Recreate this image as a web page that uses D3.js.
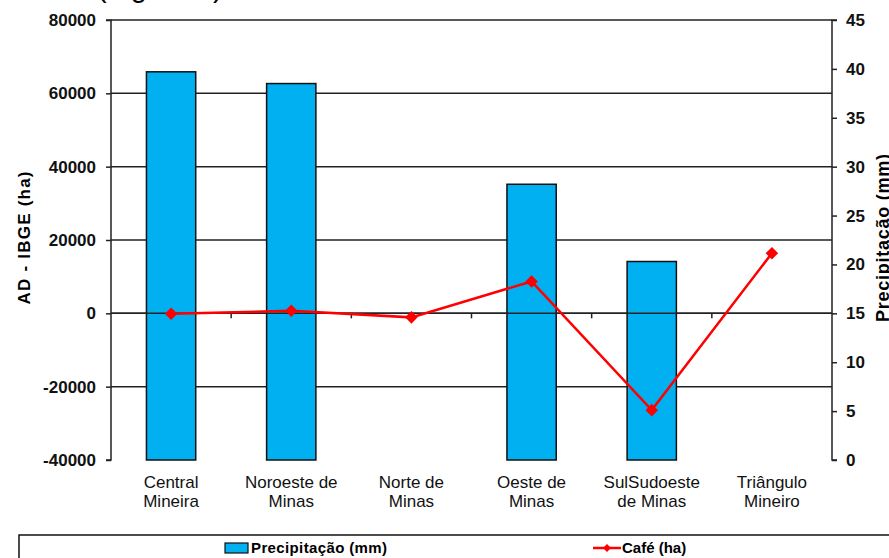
<!DOCTYPE html>
<html>
<head>
<meta charset="utf-8">
<script src="https://cdn.jsdelivr.net/npm/d3@7"></script>
<style>
  body { margin: 0; background: #fff; }
  svg { display: block; font-family: Arial, "Liberation Sans", sans-serif; }
</style>
</head>
<body>
<svg width="889" height="558"></svg>
<script>
// data
const regions = ['Central\nMineira', 'Noroeste de\nMinas', 'Norte de\nMinas', 'Oeste de\nMinas', 'SulSudoeste\nde Minas', 'Triângulo\nMineiro'];
const precipitacao = [39.7, 38.5, null, 28.2, 20.3, null];   // mm, right axis
const cafe = [-100, 700, -1100, 8700, -26400, 16400];          // ha, left axis
const leftTicks = [-40000, -20000, 0, 20000, 40000, 60000, 80000];
const rightTicks = [0, 5, 10, 15, 20, 25, 30, 35, 40, 45];

const svg = d3.select('svg');
const margin = { top: 20, right: 57, bottom: 98, left: 111 };
const W = 889 - margin.left - margin.right;
const H = 558 - margin.top - margin.bottom;

const x = d3.scaleBand().domain(regions).range([margin.left, margin.left + W]);
const yL = d3.scaleLinear().domain([-40000, 80000]).range([margin.top + H, margin.top]);
const yR = d3.scaleLinear().domain([0, 45]).range([margin.top + H, margin.top]);

// partially cut caption above the chart
svg.append('text').attr('x', 97).attr('y', -3)
  .attr('font-size', 29).text('(Figura 3)');

// gridlines
svg.append('g').selectAll('line')
  .data(leftTicks.filter(d => d > -40000))
  .join('line')
  .attr('x1', margin.left).attr('x2', margin.left + W)
  .attr('y1', d => yL(d)).attr('y2', d => yL(d))
  .attr('stroke', '#222').attr('stroke-width', 1.5);

// left axis
const gl = svg.append('g').attr('transform', `translate(${margin.left},0)`)
  .call(d3.axisLeft(yL).tickValues(leftTicks).tickSize(5).tickPadding(10).tickFormat(d => String(d)));
gl.select('.domain').attr('stroke', '#222').attr('stroke-width', 1.5).attr('d', `M-5,${yL(80000)}H0V${yL(-40000)}H-5`);
gl.selectAll('.tick line').attr('stroke', '#222').attr('stroke-width', 1.5);
gl.selectAll('text').attr('font-size', 17).attr('font-weight', 'bold').attr('fill', '#111');

// right axis
const gr = svg.append('g').attr('transform', `translate(${margin.left + W},0)`)
  .call(d3.axisRight(yR).tickValues(rightTicks).tickSize(5).tickPadding(9));
gr.select('.domain').attr('stroke', '#222').attr('stroke-width', 1.5).attr('d', `M5,${yR(45)}H0V${yR(0)}H5`);
gr.selectAll('.tick line').attr('stroke', '#222').attr('stroke-width', 1.5);
gr.selectAll('text').attr('font-size', 17).attr('font-weight', 'bold').attr('fill', '#111');

// axis titles
svg.append('text')
  .attr('transform', `translate(30,238) rotate(-90)`)
  .attr('text-anchor', 'middle').attr('font-size', 17).attr('font-weight', 'bold')
  .attr('textLength', 133)
  .text('AD - IBGE  (ha)');
svg.append('text')
  .attr('transform', `translate(889,238) rotate(-90)`)
  .attr('text-anchor', 'middle').attr('font-size', 18).attr('font-weight', 'bold')
  .attr('textLength', 168)
  .text('Precipitação  (mm)');

// bars
const bw = x.bandwidth() * 0.41;
svg.append('g').selectAll('rect')
  .data(regions.map((r, i) => ({ r, v: precipitacao[i] })).filter(d => d.v != null))
  .join('rect')
  .attr('x', d => x(d.r) + (x.bandwidth() - bw) / 2)
  .attr('width', bw)
  .attr('y', d => yR(d.v))
  .attr('height', d => yR(0) - yR(d.v))
  .attr('fill', '#00B0F0').attr('stroke', '#111').attr('stroke-width', 1.5);

// category axis line at zero
const y0 = yL(0);
svg.append('line').attr('x1', margin.left).attr('x2', margin.left + W)
  .attr('y1', y0).attr('y2', y0).attr('stroke', '#222').attr('stroke-width', 1.5);
svg.append('g').selectAll('line')
  .data(regions.slice(1))
  .join('line')
  .attr('x1', d => x(d)).attr('x2', d => x(d))
  .attr('y1', y0).attr('y2', y0 + 5)
  .attr('stroke', '#222').attr('stroke-width', 1.5);

// category labels, one text per line
const labelLines = regions.flatMap(d => d.split('\n').map((t, i) => ({ d, t, i })));
svg.append('g').selectAll('text')
  .data(labelLines)
  .join('text')
  .attr('text-anchor', 'middle').attr('font-size', 17).attr('fill', '#111')
  .attr('x', l => x(l.d) + x.bandwidth() / 2)
  .attr('y', l => 488 + l.i * 18.5)
  .text(l => l.t);

// café line
const cx = i => x(regions[i]) + x.bandwidth() / 2;
const line = d3.line().x((d, i) => cx(i)).y(d => yL(d));
svg.append('path').datum(cafe)
  .attr('d', line).attr('fill', 'none')
  .attr('stroke', '#FF0000').attr('stroke-width', 2.5);
const diamond = d3.symbol().type(d3.symbolDiamond2).size(100);
svg.append('g').selectAll('path')
  .data(cafe)
  .join('path')
  .attr('d', diamond)
  .attr('transform', (d, i) => `translate(${cx(i)},${yL(d)})`)
  .attr('fill', '#FF0000');

// legend
svg.append('rect').attr('x', 19).attr('y', 535).attr('width', 900).attr('height', 60)
  .attr('fill', 'none').attr('stroke', '#111').attr('stroke-width', 1.5);
svg.append('rect').attr('x', 225).attr('y', 543).attr('width', 23).attr('height', 10)
  .attr('fill', '#00B0F0').attr('stroke', '#111').attr('stroke-width', 1.2);
svg.append('text').attr('x', 251).attr('y', 553).attr('font-size', 15).attr('font-weight', 'bold')
  .attr('textLength', 136).text('Precipitação (mm)');
svg.append('line').attr('x1', 593).attr('x2', 621).attr('y1', 548).attr('y2', 548)
  .attr('stroke', '#FF0000').attr('stroke-width', 2.5);
svg.append('path').attr('d', d3.symbol().type(d3.symbolDiamond2).size(40))
  .attr('transform', 'translate(607,548)').attr('fill', '#FF0000');
svg.append('text').attr('x', 622).attr('y', 553).attr('font-size', 15).attr('font-weight', 'bold')
  .text('Café (ha)');
</script>
</body>
</html>
